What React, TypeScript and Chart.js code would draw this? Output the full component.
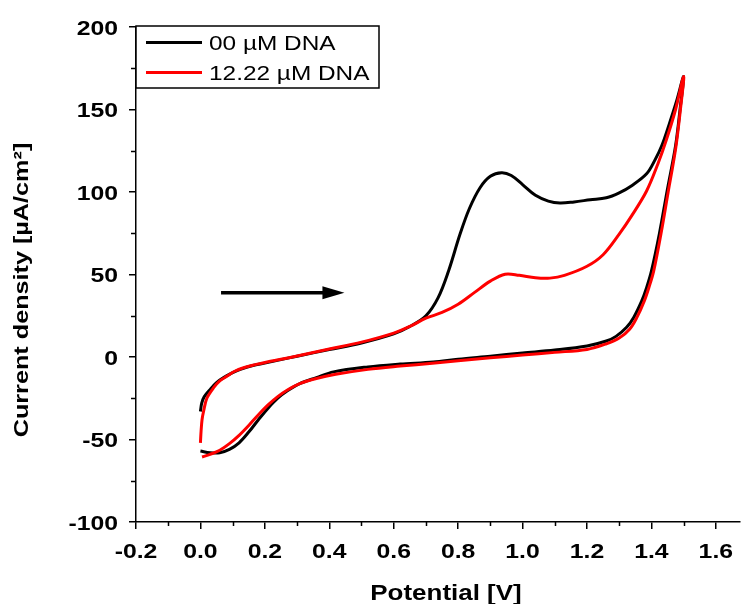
import React, { useEffect, useRef } from "react";
import { Chart, registerables } from "chart.js";

Chart.register(...registerables);

// Black: 00 µM DNA (forward scan then reverse scan)
const blackX = [0.0, 0.004, 0.012, 0.031, 0.05, 0.072, 0.1, 0.124, 0.16, 0.207, 0.25, 0.3, 0.4, 0.5, 0.6, 0.65, 0.7, 0.738, 0.77, 0.806, 0.835, 0.868, 0.9, 0.935, 0.965, 1.0, 1.04, 1.08, 1.116, 1.16, 1.21, 1.26, 1.3, 1.34, 1.385, 1.41, 1.432, 1.455, 1.478, 1.5,
  1.49, 1.475, 1.45, 1.425, 1.4, 1.385, 1.37, 1.345, 1.323, 1.29, 1.26, 1.2, 1.1, 1.0, 0.9, 0.8, 0.723, 0.62, 0.52, 0.413, 0.36, 0.31, 0.27, 0.24, 0.21, 0.18, 0.15, 0.12, 0.09, 0.06, 0.03, 0.0];
const blackY = [-33, -28, -24, -19.5, -15.5, -12.5, -9.5, -7.5, -5.3, -3.4, -1.6, 0.5, 4.5, 8.5, 14, 18.5, 25, 36, 52, 74.5, 90, 102.6, 109.5, 111.7, 110, 104.5, 98, 94.5, 93.3, 94, 95.3, 96.5, 99.5, 104, 111, 119, 128, 141, 155, 170,
  152, 128, 102, 75, 52, 42, 34, 24, 18, 12.5, 9.7, 6.7, 4.2, 2.4, 0.5, -1.3, -3, -4.3, -6, -9, -12.5, -16, -20.5, -25, -31, -38, -45.5, -52, -56, -58, -58, -57];

// Red: 12.22 µM DNA
const redX = [0.0, 0.002, 0.005, 0.01, 0.02, 0.041, 0.06, 0.083, 0.105, 0.134, 0.17, 0.207, 0.25, 0.3, 0.4, 0.5, 0.6, 0.65, 0.7, 0.75, 0.8, 0.85, 0.9, 0.946, 0.99, 1.04, 1.085, 1.13, 1.2, 1.25, 1.3, 1.34, 1.385, 1.42, 1.447, 1.475, 1.5,
  1.49, 1.475, 1.452, 1.43, 1.407, 1.392, 1.378, 1.355, 1.333, 1.3, 1.26, 1.2, 1.1, 1.0, 0.9, 0.8, 0.72, 0.62, 0.52, 0.42, 0.36, 0.31, 0.27, 0.24, 0.21, 0.18, 0.15, 0.12, 0.09, 0.06, 0.03, 0.005];
const redY = [-52, -45, -38, -32.7, -25, -18.6, -14.5, -11.5, -8.8, -6.5, -4.6, -3.0, -1.4, 0.6, 4.8, 9, 14.5, 18.5, 23.5, 27, 32, 39, 46, 50.2, 49.5, 48, 47.8, 49.5, 55, 62, 74.5, 86, 100.6, 117, 132, 150, 170,
  150, 126, 100, 75, 52, 42, 34, 24, 17, 11.5, 8, 4.6, 2.8, 1.2, -0.5, -2.3, -3.8, -5.5, -7.5, -10.5, -13, -16, -20, -24, -29, -35, -41.5, -47.5, -52.5, -56.5, -59, -60.6];

const seriesLabels = ["00 µM DNA", "12.22 µM DNA"];
const seriesColors = ["#000000", "#ff0000"];

const xTicks = [-0.2, 0.0, 0.2, 0.4, 0.6, 0.8, 1.0, 1.2, 1.4, 1.6];
const xMinorTicks = [-0.1, 0.1, 0.3, 0.5, 0.7, 0.9, 1.1, 1.3, 1.5];
const yTicks = [-100, -50, 0, 50, 100, 150, 200];
const yMinorTicks = [-75, -25, 25, 75, 125, 175];
const xTitle = "Potential [V]";
const yTitle = "Current density [µA/cm²]";

// scan direction arrow (data coordinates)
const arrowFrom = [0.064, 39];
const arrowTo = [0.447, 39];

const FONT = '"Liberation Sans", Arial, sans-serif';

function pts(xs: number[], ys: number[]) {
  return xs.map((x, i) => ({ x, y: ys[i] }));
}

function stretchedText(ctx: any, text: string, x: number, y: number, sx: number, align: string, rot = 0) {
  ctx.save();
  ctx.translate(x, y);
  if (rot) ctx.rotate(rot);
  ctx.scale(sx, 1);
  ctx.textAlign = align;
  ctx.textBaseline = "alphabetic";
  ctx.fillText(text, 0, 0);
  ctx.restore();
}

const extrasPlugin = {
  id: "extras",
  afterDraw(chart: any) {
    const ctx = chart.ctx;
    const xs = chart.scales.x;
    const ys = chart.scales.y;
    const area = chart.chartArea;
    ctx.save();
    // minor ticks
    ctx.strokeStyle = "#000";
    ctx.lineWidth = 1.5;
    ctx.beginPath();
    xMinorTicks.forEach((v) => {
      const px = Math.round(xs.getPixelForValue(v)) + 0.5;
      ctx.moveTo(px, area.bottom);
      ctx.lineTo(px, area.bottom + 4);
    });
    yMinorTicks.forEach((v) => {
      const py = Math.round(ys.getPixelForValue(v)) + 0.5;
      ctx.moveTo(area.left, py);
      ctx.lineTo(area.left - 5, py);
    });
    ctx.stroke();

    // tick labels
    ctx.fillStyle = "#000";
    ctx.font = "bold 21px " + FONT;
    xTicks.forEach((v) => {
      stretchedText(ctx, v.toFixed(1), xs.getPixelForValue(v), area.bottom + 36, 1.18, "center");
    });
    yTicks.forEach((v) => {
      stretchedText(ctx, String(v), area.left - 18, ys.getPixelForValue(v) + 7.5, 1.18, "right");
    });

    // axis titles
    ctx.font = "bold 22px " + FONT;
    stretchedText(ctx, xTitle, (area.left + area.right) / 2 + 8, 600, 1.18, "center");
    ctx.font = "bold 21px " + FONT;
    stretchedText(ctx, yTitle, 28, 290, 1.2, "center", -Math.PI / 2);

    // arrow
    const ax0 = xs.getPixelForValue(arrowFrom[0]);
    const ay0 = ys.getPixelForValue(arrowFrom[1]);
    const ax1 = xs.getPixelForValue(arrowTo[0]);
    const ay1 = ys.getPixelForValue(arrowTo[1]);
    ctx.lineWidth = 3.5;
    ctx.beginPath();
    ctx.moveTo(ax0, ay0);
    ctx.lineTo(ax1 - 15, ay1);
    ctx.stroke();
    ctx.beginPath();
    ctx.moveTo(ax1, ay1);
    ctx.lineTo(ax1 - 22, ay1 - 6.5);
    ctx.lineTo(ax1 - 22, ay1 + 6.5);
    ctx.closePath();
    ctx.fill();

    // legend box
    const lx = area.left;
    const ly = area.top - 1;
    const lw = 243;
    const lh = 62;
    ctx.fillStyle = "#fff";
    ctx.fillRect(lx, ly, lw, lh);
    ctx.lineWidth = 1.5;
    ctx.strokeStyle = "#000";
    ctx.strokeRect(lx, ly, lw, lh);
    ctx.font = "20px " + FONT;
    seriesLabels.forEach((lab, i) => {
      const yy = ly + 16.5 + i * 30;
      ctx.strokeStyle = seriesColors[i];
      ctx.lineWidth = 3;
      ctx.beginPath();
      ctx.moveTo(lx + 10, yy);
      ctx.lineTo(lx + 66, yy);
      ctx.stroke();
      ctx.fillStyle = "#000";
      stretchedText(ctx, lab, lx + 73, yy + 7, 1.22, "left");
    });
    ctx.restore();
  },
};

export default function App() {
  const ref = useRef<HTMLCanvasElement | null>(null);
  useEffect(() => {
    if (!ref.current) return;
    const chart = new Chart(ref.current, {
      type: "scatter",
      data: {
        datasets: [
          {
            label: seriesLabels[0],
            data: pts(blackX, blackY),
            showLine: true,
            borderColor: seriesColors[0],
            backgroundColor: seriesColors[0],
            borderWidth: 3,
            pointRadius: 0,
            tension: 0.35,
            order: 1,
          },
          {
            label: seriesLabels[1],
            data: pts(redX, redY),
            showLine: true,
            borderColor: seriesColors[1],
            backgroundColor: seriesColors[1],
            borderWidth: 3,
            pointRadius: 0,
            tension: 0.35,
            order: 0,
          },
        ],
      },
      options: {
        animation: false,
        responsive: false,
        layout: { padding: { top: 27, right: 2, left: 0, bottom: 0 } },
        plugins: { legend: { display: false }, tooltip: { enabled: false } },
        scales: {
          x: {
            type: "linear",
            min: -0.2,
            max: 1.675,
            afterBuildTicks: (s: any) => {
              s.ticks = xTicks.map((v) => ({ value: v }));
            },
            afterFit: (s: any) => {
              s.height = 82;
            },
            ticks: {
              color: "rgba(0,0,0,0)",
              padding: 8,
              maxRotation: 0,
              font: { family: FONT, size: 20, weight: "bold" },
              callback: (v: any) => Number(v).toFixed(1),
            },
            grid: { drawOnChartArea: false, drawTicks: true, tickLength: 7, color: "#000", lineWidth: 1.5 },
            border: { display: true, color: "#000", width: 1.5 },
            title: { display: false },
          },
          y: {
            type: "linear",
            min: -100,
            max: 200,
            afterBuildTicks: (s: any) => {
              s.ticks = yTicks.map((v) => ({ value: v }));
            },
            afterFit: (s: any) => {
              s.width = 136;
            },
            ticks: {
              color: "rgba(0,0,0,0)",
              padding: 10,
              font: { family: FONT, size: 20, weight: "bold" },
              callback: (v: any) => String(v),
            },
            grid: { drawOnChartArea: false, drawTicks: true, tickLength: 7, color: "#000", lineWidth: 1.5 },
            border: { display: true, color: "#000", width: 1.5 },
            title: { display: false },
          },
        },
      },
      plugins: [extrasPlugin],
    } as any);
    return () => chart.destroy();
  }, []);
  return (
    <div style={{ position: "absolute", left: 0, top: 0, width: 742, height: 604, background: "#fff" }}>
      <canvas ref={ref} width={742} height={604} style={{ width: 742, height: 604 }} />
    </div>
  );
}
